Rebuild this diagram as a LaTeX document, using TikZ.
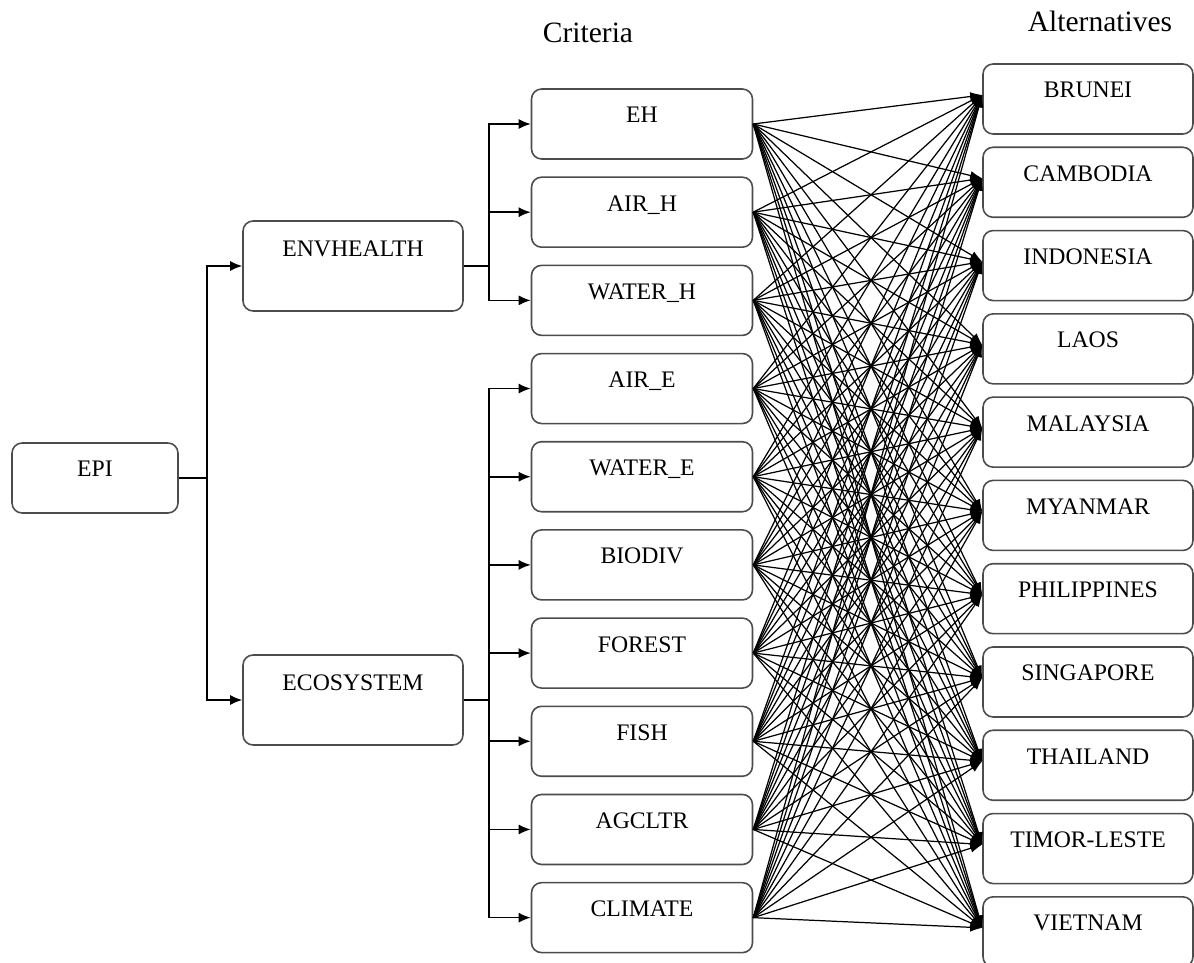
\documentclass[tikz,border=0pt]{standalone}
\usepackage{fontspec}
\setmainfont{Liberation Serif}
\usetikzlibrary{arrows.meta}
\tikzstyle{every node}=[font=\fontsize{13.5}{16}\selectfont]
\tikzstyle{rbox}=[rectangle,
                  rounded corners=.2cm,
                  draw=black!70,
                  line width=.9pt,
                  fill=white,
                  inner sep=0pt]
\tikzstyle{goal}=[rbox,minimum width=3.32cm,text height=.66cm,text depth=.74cm]
\tikzstyle{factor}=[rbox,minimum width=4.4cm,text height=.7cm,text depth=1.1cm]
\tikzstyle{criterion}=[rbox,minimum width=4.42cm,text height=.68cm,text depth=.72cm]
\tikzstyle{alternative}=[rbox,minimum width=4.2cm,text height=.68cm,text depth=.72cm]
\tikzstyle{heading}=[font=\fontsize{16.8}{20}\selectfont,anchor=base]
\tikzstyle{branch}=[-{Latex[length=2.4mm,width=2mm]},line width=.9pt]
\tikzstyle{link}=[-{Latex[length=2.4mm,width=1.8mm]},line width=.7pt]
\begin{document}
\begin{tikzpicture}[x=.02cm,y=-.02cm,node distance=1.764cm]
\useasboundingbox (0,0) rectangle (1194,963);
\node (criteria) [heading] at (588,43) {Criteria};
\node (alternatives) [heading] at (1100,32) {Alternatives};
% hierarchy
\node (EPI)       [goal]   at (95,478)  {EPI};
\node (ENVHEALTH) [factor] at (353,266) {ENVHEALTH};
\node (ECOSYSTEM) [factor] at (353,700) {ECOSYSTEM};
\node (EH)      [criterion] at (642,124) {EH};
\node (AIR_H)   [criterion,below of=EH]      {AIR\_H};
\node (WATER_H) [criterion,below of=AIR_H]   {WATER\_H};
\node (AIR_E)   [criterion,below of=WATER_H] {AIR\_E};
\node (WATER_E) [criterion,below of=AIR_E]   {WATER\_E};
\node (BIODIV)  [criterion,below of=WATER_E] {BIODIV};
\node (FOREST)  [criterion,below of=BIODIV]  {FOREST};
\node (FISH)    [criterion,below of=FOREST]  {FISH};
\node (AGCLTR)  [criterion,below of=FISH]    {AGCLTR};
\node (CLIMATE) [criterion,below of=AGCLTR]  {CLIMATE};
% alternatives
\begin{scope}[node distance=1.666cm]
\node (BRUNEI)      [alternative] at (1088,99) {BRUNEI};
\node (CAMBODIA)    [alternative,below of=BRUNEI]      {CAMBODIA};
\node (INDONESIA)   [alternative,below of=CAMBODIA]    {INDONESIA};
\node (LAOS)        [alternative,below of=INDONESIA]   {LAOS};
\node (MALAYSIA)    [alternative,below of=LAOS]        {MALAYSIA};
\node (MYANMAR)     [alternative,below of=MALAYSIA]    {MYANMAR};
\node (PHILIPPINES) [alternative,below of=MYANMAR]     {PHILIPPINES};
\node (SINGAPORE)   [alternative,below of=PHILIPPINES] {SINGAPORE};
\node (THAILAND)    [alternative,below of=SINGAPORE]   {THAILAND};
\node (TIMOR)       [alternative,below of=THAILAND]    {TIMOR-LESTE};
\node (VIETNAM)     [alternative,below of=TIMOR]       {VIETNAM};
\end{scope}
% tree connectors
\coordinate (episplit) at (207,478);
\coordinate (envsplit) at (489,266);
\coordinate (ecosplit) at (489,700);
\draw[line width=.9pt] (EPI.east) -- (episplit);
\draw[branch] (episplit) |- (ENVHEALTH.west);
\draw[branch] (episplit) |- (ECOSYSTEM.west);
\draw[line width=.9pt] (ENVHEALTH.east) -- (envsplit);
\foreach \c in {EH,AIR_H,WATER_H}
  \draw[branch] (envsplit) |- (\c.west);
\draw[line width=.9pt] (ECOSYSTEM.east) -- (ecosplit);
\foreach \c in {AIR_E,WATER_E,BIODIV,FOREST,FISH,AGCLTR,CLIMATE}
  \draw[branch] (ecosplit) |- (\c.west);
% every criterion to every alternative
\foreach \c in {EH,AIR_H,WATER_H,AIR_E,WATER_E,BIODIV,FOREST,FISH,AGCLTR,CLIMATE}
  \foreach \a in {BRUNEI,CAMBODIA,INDONESIA,LAOS,MALAYSIA,MYANMAR,PHILIPPINES,SINGAPORE,THAILAND,TIMOR,VIETNAM}
    \path (\c.east) edge[link] ([yshift=.08cm]\a.west);
\end{tikzpicture}
\end{document}
